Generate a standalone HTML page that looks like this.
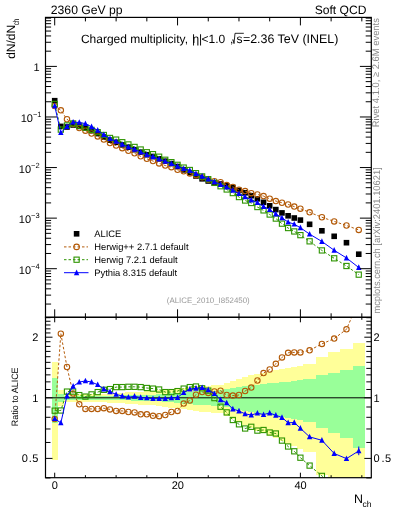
<!DOCTYPE html>
<html><head><meta charset="utf-8"><style>
html,body{margin:0;padding:0;background:#fff;}
body{width:393px;height:512px;overflow:hidden;}
svg{display:block;will-change:transform;}
</style></head><body>
<svg width="393" height="512" viewBox="0 0 393 512">
<defs><clipPath id="cm"><rect x="45.5" y="17.4" width="325.8" height="299.90000000000003"/></clipPath><clipPath id="cr"><rect x="45.5" y="317.3" width="325.8" height="160.39999999999998"/></clipPath></defs><g clip-path="url(#cr)"><g fill="#ffff99" shape-rendering="crispEdges"><rect x="51.63" y="361.89" width="6.14" height="97.92"/><rect x="57.77" y="390.27" width="6.14" height="15.78"/><rect x="63.91" y="393.53" width="6.14" height="8.75"/><rect x="70.06" y="393.53" width="6.14" height="8.75"/><rect x="76.2" y="393.53" width="6.14" height="8.75"/><rect x="82.34" y="393.53" width="6.14" height="8.75"/><rect x="88.48" y="393.53" width="6.14" height="8.75"/><rect x="94.63" y="393.53" width="6.14" height="8.75"/><rect x="100.77" y="393.53" width="6.14" height="8.75"/><rect x="106.91" y="393.22" width="6.14" height="9.41"/><rect x="113.05" y="392.91" width="6.14" height="10.06"/><rect x="119.2" y="392.6" width="6.14" height="10.72"/><rect x="125.34" y="392.29" width="6.14" height="11.38"/><rect x="131.48" y="391.92" width="6.14" height="12.19"/><rect x="137.62" y="391.54" width="6.14" height="13"/><rect x="143.77" y="391.17" width="6.14" height="13.81"/><rect x="149.91" y="390.8" width="6.14" height="14.62"/><rect x="156.05" y="390.43" width="6.14" height="15.43"/><rect x="162.19" y="389.75" width="6.14" height="16.93"/><rect x="168.34" y="389.07" width="6.14" height="18.43"/><rect x="174.48" y="388.4" width="6.14" height="19.93"/><rect x="180.62" y="387.73" width="6.14" height="21.44"/><rect x="186.76" y="387.07" width="6.14" height="22.96"/><rect x="192.91" y="386.42" width="6.14" height="24.47"/><rect x="199.05" y="385.86" width="6.14" height="25.78"/><rect x="205.19" y="385.51" width="6.14" height="26.59"/><rect x="211.33" y="385.17" width="6.14" height="27.4"/><rect x="217.48" y="384.82" width="6.14" height="28.22"/><rect x="223.62" y="382.81" width="6.14" height="33.1"/><rect x="229.76" y="380.83" width="6.14" height="38.04"/><rect x="235.9" y="378.91" width="6.14" height="43.03"/><rect x="242.05" y="377.02" width="6.14" height="48.09"/><rect x="248.19" y="375.28" width="6.14" height="52.93"/><rect x="254.33" y="374.01" width="6.14" height="56.57"/><rect x="260.47" y="372.76" width="6.14" height="60.25"/><rect x="266.62" y="371.53" width="6.14" height="63.99"/><rect x="272.76" y="370.32" width="6.14" height="67.79"/><rect x="278.9" y="369.12" width="6.14" height="71.65"/><rect x="285.04" y="367.94" width="6.14" height="75.58"/><rect x="291.19" y="366.77" width="6.14" height="79.58"/><rect x="297.33" y="365.62" width="6.14" height="83.66"/><rect x="303.47" y="364.42" width="12.28" height="88.07"/><rect x="315.76" y="357.42" width="12.29" height="117.69"/><rect x="328.04" y="352.24" width="12.29" height="146.28"/><rect x="340.33" y="349.48" width="12.28" height="165.42"/><rect x="352.61" y="343.08" width="12.29" height="233.08"/></g><g fill="#99ff99" shape-rendering="crispEdges"><rect x="51.63" y="378.29" width="6.14" height="44.66"/><rect x="57.77" y="393.53" width="6.14" height="8.75"/><rect x="63.91" y="395.9" width="6.14" height="3.85"/><rect x="70.06" y="395.9" width="6.14" height="3.85"/><rect x="76.2" y="395.9" width="6.14" height="3.85"/><rect x="82.34" y="395.9" width="6.14" height="3.85"/><rect x="88.48" y="395.9" width="6.14" height="3.85"/><rect x="94.63" y="395.9" width="6.14" height="3.85"/><rect x="100.77" y="395.9" width="6.14" height="3.85"/><rect x="106.91" y="395.73" width="6.14" height="4.2"/><rect x="113.05" y="395.56" width="6.14" height="4.55"/><rect x="119.2" y="395.39" width="6.14" height="4.9"/><rect x="125.34" y="395.22" width="6.14" height="5.25"/><rect x="131.48" y="395.06" width="6.14" height="5.56"/><rect x="137.62" y="394.91" width="6.14" height="5.88"/><rect x="143.77" y="394.76" width="6.14" height="6.19"/><rect x="149.91" y="394.61" width="6.14" height="6.51"/><rect x="156.05" y="394.46" width="6.14" height="6.82"/><rect x="162.19" y="393.94" width="6.14" height="7.89"/><rect x="168.34" y="393.43" width="6.14" height="8.97"/><rect x="174.48" y="392.92" width="6.14" height="10.04"/><rect x="180.62" y="392.42" width="6.14" height="11.11"/><rect x="186.76" y="391.92" width="6.14" height="12.19"/><rect x="192.91" y="391.42" width="6.14" height="13.26"/><rect x="199.05" y="391" width="6.14" height="14.18"/><rect x="205.19" y="390.75" width="6.14" height="14.71"/><rect x="211.33" y="390.51" width="6.14" height="15.24"/><rect x="217.48" y="390.27" width="6.14" height="15.78"/><rect x="223.62" y="389.25" width="6.14" height="18.02"/><rect x="229.76" y="388.25" width="6.14" height="20.27"/><rect x="235.9" y="387.26" width="6.14" height="22.53"/><rect x="242.05" y="386.28" width="6.14" height="24.79"/><rect x="248.19" y="385.38" width="6.14" height="26.91"/><rect x="254.33" y="384.74" width="6.14" height="28.41"/><rect x="260.47" y="384.11" width="6.14" height="29.93"/><rect x="266.62" y="383.48" width="6.14" height="31.44"/><rect x="272.76" y="382.86" width="6.14" height="32.97"/><rect x="278.9" y="382.24" width="6.14" height="34.49"/><rect x="285.04" y="381.63" width="6.14" height="36.03"/><rect x="291.19" y="381.02" width="6.14" height="37.56"/><rect x="297.33" y="380.42" width="6.14" height="39.11"/><rect x="303.47" y="379.14" width="12.28" height="42.43"/><rect x="315.76" y="375.4" width="12.29" height="52.59"/><rect x="328.04" y="372.54" width="12.29" height="60.93"/><rect x="340.33" y="370.28" width="12.28" height="67.91"/><rect x="352.61" y="365.92" width="12.29" height="82.57"/></g><line x1="45.5" y1="397.8" x2="371.3" y2="397.8" stroke="#000" stroke-width="1"/></g><g clip-path="url(#cm)"><g fill="#000"><rect x="51.9" y="97.9" width="5.6" height="5.6"/><rect x="58.04" y="123.6" width="5.6" height="5.6"/><rect x="64.19" y="124.2" width="5.6" height="5.6"/><rect x="70.33" y="122.2" width="5.6" height="5.6"/><rect x="76.47" y="123.6" width="5.6" height="5.6"/><rect x="82.61" y="125.1" width="5.6" height="5.6"/><rect x="88.76" y="127.9" width="5.6" height="5.6"/><rect x="94.9" y="130.8" width="5.6" height="5.6"/><rect x="101.04" y="134.2" width="5.6" height="5.6"/><rect x="107.18" y="137.35" width="5.6" height="5.6"/><rect x="113.33" y="139.5" width="5.6" height="5.6"/><rect x="119.47" y="142.1" width="5.6" height="5.6"/><rect x="125.61" y="144.4" width="5.6" height="5.6"/><rect x="131.75" y="146.9" width="5.6" height="5.6"/><rect x="137.89" y="149.4" width="5.6" height="5.6"/><rect x="144.04" y="151.9" width="5.6" height="5.6"/><rect x="150.18" y="153.7" width="5.6" height="5.6"/><rect x="156.32" y="156" width="5.6" height="5.6"/><rect x="162.46" y="158.4" width="5.6" height="5.6"/><rect x="168.61" y="160.8" width="5.6" height="5.6"/><rect x="174.75" y="163.7" width="5.6" height="5.6"/><rect x="180.89" y="167.1" width="5.6" height="5.6"/><rect x="187.03" y="169.9" width="5.6" height="5.6"/><rect x="193.18" y="173.2" width="5.6" height="5.6"/><rect x="199.32" y="176" width="5.6" height="5.6"/><rect x="205.46" y="178.2" width="5.6" height="5.6"/><rect x="211.61" y="180" width="5.6" height="5.6"/><rect x="217.75" y="181.2" width="5.6" height="5.6"/><rect x="223.89" y="183" width="5.6" height="5.6"/><rect x="230.03" y="184.7" width="5.6" height="5.6"/><rect x="236.18" y="187.6" width="5.6" height="5.6"/><rect x="242.32" y="190" width="5.6" height="5.6"/><rect x="248.46" y="192.9" width="5.6" height="5.6"/><rect x="254.6" y="196" width="5.6" height="5.6"/><rect x="260.75" y="199.5" width="5.6" height="5.6"/><rect x="266.89" y="203" width="5.6" height="5.6"/><rect x="273.03" y="206.8" width="5.6" height="5.6"/><rect x="279.17" y="210.1" width="5.6" height="5.6"/><rect x="285.31" y="213" width="5.6" height="5.6"/><rect x="291.46" y="215.2" width="5.6" height="5.6"/><rect x="297.6" y="217.3" width="5.6" height="5.6"/><rect x="306.81" y="221.5" width="5.6" height="5.6"/><rect x="319.1" y="228" width="5.6" height="5.6"/><rect x="331.38" y="233.5" width="5.6" height="5.6"/><rect x="343.67" y="239.9" width="5.6" height="5.6"/><rect x="355.95" y="251.4" width="5.6" height="5.6"/></g><polyline points="54.7,106.05 60.84,110.3 66.98,119.26 73.13,123.94 79.27,128.03 85.41,130.69 91.56,133.49 97.7,136.39 103.84,139.61 109.98,143.06 116.12,145.59 122.27,148.19 128.41,150.77 134.55,153.37 140.69,156.35 146.84,158.85 152.98,161.02 159.12,163.42 165.26,165.52 171.41,167.17 177.55,169.79 183.69,171.36 189.83,173.38 195.98,175.22 202.12,177.37 208.26,179.77 214.41,181.22 220.55,182.22 226.69,185.1 232.83,186.95 238.98,189.7 245.12,191.09 251.26,193.14 257.4,194.45 263.55,196.09 269.69,198.69 275.83,201.06 281.97,202.75 288.12,204.49 294.26,206.59 300.4,208.69 309.61,212.37 321.9,217.26 334.18,221.43 346.47,225.49 358.75,229.9" fill="none" stroke="#b35a08" stroke-width="1.0" stroke-dasharray="2.5,2"/><g fill="none" stroke="#b35a08" stroke-width="1.1"><circle cx="54.7" cy="106.05" r="2.7"/><circle cx="60.84" cy="110.3" r="2.7"/><circle cx="66.98" cy="119.26" r="2.7"/><circle cx="73.13" cy="123.94" r="2.7"/><circle cx="79.27" cy="128.03" r="2.7"/><circle cx="85.41" cy="130.69" r="2.7"/><circle cx="91.56" cy="133.49" r="2.7"/><circle cx="97.7" cy="136.39" r="2.7"/><circle cx="103.84" cy="139.61" r="2.7"/><circle cx="109.98" cy="143.06" r="2.7"/><circle cx="116.12" cy="145.59" r="2.7"/><circle cx="122.27" cy="148.19" r="2.7"/><circle cx="128.41" cy="150.77" r="2.7"/><circle cx="134.55" cy="153.37" r="2.7"/><circle cx="140.69" cy="156.35" r="2.7"/><circle cx="146.84" cy="158.85" r="2.7"/><circle cx="152.98" cy="161.02" r="2.7"/><circle cx="159.12" cy="163.42" r="2.7"/><circle cx="165.26" cy="165.52" r="2.7"/><circle cx="171.41" cy="167.17" r="2.7"/><circle cx="177.55" cy="169.79" r="2.7"/><circle cx="183.69" cy="171.36" r="2.7"/><circle cx="189.83" cy="173.38" r="2.7"/><circle cx="195.98" cy="175.22" r="2.7"/><circle cx="202.12" cy="177.37" r="2.7"/><circle cx="208.26" cy="179.77" r="2.7"/><circle cx="214.41" cy="181.22" r="2.7"/><circle cx="220.55" cy="182.22" r="2.7"/><circle cx="226.69" cy="185.1" r="2.7"/><circle cx="232.83" cy="186.95" r="2.7"/><circle cx="238.98" cy="189.7" r="2.7"/><circle cx="245.12" cy="191.09" r="2.7"/><circle cx="251.26" cy="193.14" r="2.7"/><circle cx="257.4" cy="194.45" r="2.7"/><circle cx="263.55" cy="196.09" r="2.7"/><circle cx="269.69" cy="198.69" r="2.7"/><circle cx="275.83" cy="201.06" r="2.7"/><circle cx="281.97" cy="202.75" r="2.7"/><circle cx="288.12" cy="204.49" r="2.7"/><circle cx="294.26" cy="206.59" r="2.7"/><circle cx="300.4" cy="208.69" r="2.7"/><circle cx="309.61" cy="212.37" r="2.7"/><circle cx="321.9" cy="217.26" r="2.7"/><circle cx="334.18" cy="221.43" r="2.7"/><circle cx="346.47" cy="225.49" r="2.7"/><circle cx="358.75" cy="229.9" r="2.7"/></g><polyline points="54.7,103.94 60.84,129.59 66.98,125.44 73.13,123.44 79.27,125.72 85.41,127.6 91.56,129.85 97.7,132.17 103.84,134.99 109.98,137.96 116.12,139.61 122.27,142.21 128.41,144.44 134.55,146.94 140.69,149.51 146.84,152.24 152.98,154.19 159.12,156.71 165.26,159.77 171.41,162.17 177.55,164.82 183.69,167.59 189.83,170.01 195.98,173.16 202.12,176.41 208.26,179.19 214.41,182.88 220.55,186.24 226.69,189.47 232.83,193.08 238.98,197.06 245.12,200.51 251.26,202.99 257.4,207.04 263.55,210.39 269.69,214.52 275.83,218.57 281.97,223.65 288.12,228.04 294.26,231.44 300.4,235.15 309.61,241.33 321.9,250.42 334.18,258.31 346.47,266 358.75,274.65" fill="none" stroke="#2e9400" stroke-width="1.0" stroke-dasharray="2.5,2"/><g fill="none" stroke="#2e9400" stroke-width="1.1"><rect x="52.1" y="101.34" width="5.2" height="5.2"/><rect x="58.24" y="126.99" width="5.2" height="5.2"/><rect x="64.39" y="122.84" width="5.2" height="5.2"/><rect x="70.53" y="120.84" width="5.2" height="5.2"/><rect x="76.67" y="123.12" width="5.2" height="5.2"/><rect x="82.81" y="125" width="5.2" height="5.2"/><rect x="88.96" y="127.25" width="5.2" height="5.2"/><rect x="95.1" y="129.57" width="5.2" height="5.2"/><rect x="101.24" y="132.39" width="5.2" height="5.2"/><rect x="107.38" y="135.36" width="5.2" height="5.2"/><rect x="113.53" y="137.01" width="5.2" height="5.2"/><rect x="119.67" y="139.61" width="5.2" height="5.2"/><rect x="125.81" y="141.84" width="5.2" height="5.2"/><rect x="131.95" y="144.34" width="5.2" height="5.2"/><rect x="138.09" y="146.91" width="5.2" height="5.2"/><rect x="144.24" y="149.64" width="5.2" height="5.2"/><rect x="150.38" y="151.59" width="5.2" height="5.2"/><rect x="156.52" y="154.11" width="5.2" height="5.2"/><rect x="162.66" y="157.17" width="5.2" height="5.2"/><rect x="168.81" y="159.57" width="5.2" height="5.2"/><rect x="174.95" y="162.22" width="5.2" height="5.2"/><rect x="181.09" y="164.99" width="5.2" height="5.2"/><rect x="187.23" y="167.41" width="5.2" height="5.2"/><rect x="193.38" y="170.56" width="5.2" height="5.2"/><rect x="199.52" y="173.81" width="5.2" height="5.2"/><rect x="205.66" y="176.59" width="5.2" height="5.2"/><rect x="211.81" y="180.28" width="5.2" height="5.2"/><rect x="217.95" y="183.64" width="5.2" height="5.2"/><rect x="224.09" y="186.87" width="5.2" height="5.2"/><rect x="230.23" y="190.48" width="5.2" height="5.2"/><rect x="236.38" y="194.46" width="5.2" height="5.2"/><rect x="242.52" y="197.91" width="5.2" height="5.2"/><rect x="248.66" y="200.39" width="5.2" height="5.2"/><rect x="254.8" y="204.44" width="5.2" height="5.2"/><rect x="260.94" y="207.79" width="5.2" height="5.2"/><rect x="267.09" y="211.92" width="5.2" height="5.2"/><rect x="273.23" y="215.97" width="5.2" height="5.2"/><rect x="279.37" y="221.05" width="5.2" height="5.2"/><rect x="285.51" y="225.44" width="5.2" height="5.2"/><rect x="291.66" y="228.84" width="5.2" height="5.2"/><rect x="297.8" y="232.55" width="5.2" height="5.2"/><rect x="307.01" y="238.73" width="5.2" height="5.2"/><rect x="319.3" y="247.82" width="5.2" height="5.2"/><rect x="331.58" y="255.71" width="5.2" height="5.2"/><rect x="343.87" y="263.4" width="5.2" height="5.2"/><rect x="356.15" y="272.05" width="5.2" height="5.2"/></g><polyline points="54.7,105.93 60.84,132.71 66.98,126.55 73.13,122.11 79.27,122.46 85.41,123.65 91.56,126.76 97.7,130.31 103.84,134.79 109.98,138.64 116.12,141.45 122.27,144.45 128.41,147.05 134.55,149.32 140.69,152.12 146.84,154.73 152.98,156.73 159.12,159.03 165.26,161.43 171.41,163.63 177.55,166.42 183.69,168.59 189.83,170.51 195.98,173.61 202.12,176.24 208.26,178.99 214.41,181.77 220.55,184.5 226.69,187.08 232.83,190.31 238.98,193.72 245.12,196.84 251.26,200.02 257.4,202.67 263.55,206.52 269.69,209.62 275.83,214 281.97,217.85 288.12,222.08 294.26,224.21 300.4,227.76 309.61,234.12 321.9,241.48 334.18,250.29 346.47,257.98 358.75,267.54" fill="none" stroke="#0000ff" stroke-width="1.0"/><g fill="#0000ff"><path d="M54.7,102.73L57.4,108.33L52,108.33Z"/><path d="M60.84,129.51L63.54,135.11L58.14,135.11Z"/><path d="M66.98,123.35L69.69,128.95L64.28,128.95Z"/><path d="M73.13,118.91L75.83,124.51L70.43,124.51Z"/><path d="M79.27,119.26L81.97,124.86L76.57,124.86Z"/><path d="M85.41,120.45L88.11,126.05L82.71,126.05Z"/><path d="M91.56,123.56L94.26,129.16L88.86,129.16Z"/><path d="M97.7,127.11L100.4,132.71L95,132.71Z"/><path d="M103.84,131.59L106.54,137.19L101.14,137.19Z"/><path d="M109.98,135.44L112.68,141.04L107.28,141.04Z"/><path d="M116.12,138.25L118.83,143.85L113.42,143.85Z"/><path d="M122.27,141.25L124.97,146.85L119.57,146.85Z"/><path d="M128.41,143.85L131.11,149.45L125.71,149.45Z"/><path d="M134.55,146.12L137.25,151.72L131.85,151.72Z"/><path d="M140.69,148.92L143.39,154.52L138,154.52Z"/><path d="M146.84,151.53L149.54,157.13L144.14,157.13Z"/><path d="M152.98,153.53L155.68,159.13L150.28,159.13Z"/><path d="M159.12,155.83L161.82,161.43L156.42,161.43Z"/><path d="M165.26,158.23L167.96,163.83L162.56,163.83Z"/><path d="M171.41,160.43L174.11,166.03L168.71,166.03Z"/><path d="M177.55,163.22L180.25,168.82L174.85,168.82Z"/><path d="M183.69,165.39L186.39,170.99L180.99,170.99Z"/><path d="M189.83,167.31L192.53,172.91L187.13,172.91Z"/><path d="M195.98,170.41L198.68,176.01L193.28,176.01Z"/><path d="M202.12,173.04L204.82,178.64L199.42,178.64Z"/><path d="M208.26,175.79L210.96,181.39L205.56,181.39Z"/><path d="M214.41,178.57L217.11,184.17L211.71,184.17Z"/><path d="M220.55,181.3L223.25,186.9L217.85,186.9Z"/><path d="M226.69,183.88L229.39,189.48L223.99,189.48Z"/><path d="M232.83,187.11L235.53,192.71L230.13,192.71Z"/><path d="M238.98,190.52L241.68,196.12L236.28,196.12Z"/><path d="M245.12,193.64L247.82,199.24L242.42,199.24Z"/><path d="M251.26,196.82L253.96,202.42L248.56,202.42Z"/><path d="M257.4,199.47L260.1,205.07L254.7,205.07Z"/><path d="M263.55,203.32L266.25,208.92L260.85,208.92Z"/><path d="M269.69,206.42L272.39,212.02L266.99,212.02Z"/><path d="M275.83,210.8L278.53,216.4L273.13,216.4Z"/><path d="M281.97,214.65L284.67,220.25L279.27,220.25Z"/><path d="M288.12,218.88L290.81,224.48L285.42,224.48Z"/><path d="M294.26,221.01L296.96,226.61L291.56,226.61Z"/><path d="M300.4,224.56L303.1,230.16L297.7,230.16Z"/><path d="M309.61,230.92L312.31,236.52L306.91,236.52Z"/><path d="M321.9,238.28L324.6,243.88L319.2,243.88Z"/><path d="M334.18,247.09L336.88,252.69L331.48,252.69Z"/><path d="M346.47,254.78L349.17,260.38L343.77,260.38Z"/><path d="M358.75,264.34L361.45,269.94L356.05,269.94Z"/></g></g><g clip-path="url(#cr)"><polyline points="54.7,419.1 60.84,333.7 66.98,367 73.13,393.6 79.27,404.3 85.41,408.9 91.56,408.9 97.7,408.9 103.84,408.2 109.98,409.4 116.12,410.9 122.27,410.9 128.41,412 134.55,412.4 140.69,414.3 146.84,414.3 152.98,415.8 159.12,416.2 165.26,415 171.41,412 177.55,410.9 183.69,403.6 189.83,400.5 195.98,394.7 202.12,392.1 208.26,392.9 214.41,391.5 220.55,390.7 226.69,395 232.83,395.6 238.98,395 245.12,391 251.26,387.6 257.4,380.5 263.55,373.1 269.69,369.5 275.83,363.8 281.97,357.4 288.12,352.8 294.26,352.4 300.4,352.4 309.61,350.3 321.9,343.9 334.18,338.6 346.47,329.3 358.75,301.08" fill="none" stroke="#b35a08" stroke-width="1.0" stroke-dasharray="2.5,2"/><g fill="none" stroke="#b35a08" stroke-width="1.1"><circle cx="54.7" cy="419.1" r="2.7"/><circle cx="60.84" cy="333.7" r="2.7"/><circle cx="66.98" cy="367" r="2.7"/><circle cx="73.13" cy="393.6" r="2.7"/><circle cx="79.27" cy="404.3" r="2.7"/><circle cx="85.41" cy="408.9" r="2.7"/><circle cx="91.56" cy="408.9" r="2.7"/><circle cx="97.7" cy="408.9" r="2.7"/><circle cx="103.84" cy="408.2" r="2.7"/><circle cx="109.98" cy="409.4" r="2.7"/><circle cx="116.12" cy="410.9" r="2.7"/><circle cx="122.27" cy="410.9" r="2.7"/><circle cx="128.41" cy="412" r="2.7"/><circle cx="134.55" cy="412.4" r="2.7"/><circle cx="140.69" cy="414.3" r="2.7"/><circle cx="146.84" cy="414.3" r="2.7"/><circle cx="152.98" cy="415.8" r="2.7"/><circle cx="159.12" cy="416.2" r="2.7"/><circle cx="165.26" cy="415" r="2.7"/><circle cx="171.41" cy="412" r="2.7"/><circle cx="177.55" cy="410.9" r="2.7"/><circle cx="183.69" cy="403.6" r="2.7"/><circle cx="189.83" cy="400.5" r="2.7"/><circle cx="195.98" cy="394.7" r="2.7"/><circle cx="202.12" cy="392.1" r="2.7"/><circle cx="208.26" cy="392.9" r="2.7"/><circle cx="214.41" cy="391.5" r="2.7"/><circle cx="220.55" cy="390.7" r="2.7"/><circle cx="226.69" cy="395" r="2.7"/><circle cx="232.83" cy="395.6" r="2.7"/><circle cx="238.98" cy="395" r="2.7"/><circle cx="245.12" cy="391" r="2.7"/><circle cx="251.26" cy="387.6" r="2.7"/><circle cx="257.4" cy="380.5" r="2.7"/><circle cx="263.55" cy="373.1" r="2.7"/><circle cx="269.69" cy="369.5" r="2.7"/><circle cx="275.83" cy="363.8" r="2.7"/><circle cx="281.97" cy="357.4" r="2.7"/><circle cx="288.12" cy="352.8" r="2.7"/><circle cx="294.26" cy="352.4" r="2.7"/><circle cx="300.4" cy="352.4" r="2.7"/><circle cx="309.61" cy="350.3" r="2.7"/><circle cx="321.9" cy="343.9" r="2.7"/><circle cx="334.18" cy="338.6" r="2.7"/><circle cx="346.47" cy="329.3" r="2.7"/></g><polyline points="54.7,410.7 60.84,410.5 66.98,391.6 73.13,391.6 79.27,395.1 85.41,396.6 91.56,394.4 97.7,392.1 103.84,389.8 109.98,389.1 116.12,387.1 122.27,387.1 128.41,386.8 134.55,386.8 140.69,387.1 146.84,388 152.98,388.6 159.12,389.5 165.26,392.1 171.41,392.1 177.55,391.1 183.69,388.6 189.83,387.1 195.98,386.5 202.12,388.3 208.26,390.6 214.41,398.1 220.55,406.7 226.69,412.4 232.83,420 238.98,424.3 245.12,428.5 251.26,426.8 257.4,430.6 263.55,430 269.69,432.5 275.83,433.5 281.97,440.6 288.12,446.5 294.26,451.3 300.4,457.7 309.61,465.6 321.9,475.9 334.18,485.4 346.47,490.54 358.75,479.2" fill="none" stroke="#2e9400" stroke-width="1.0" stroke-dasharray="2.5,2"/><g fill="none" stroke="#2e9400" stroke-width="1.1"><rect x="52.1" y="408.1" width="5.2" height="5.2"/><rect x="58.24" y="407.9" width="5.2" height="5.2"/><rect x="64.39" y="389" width="5.2" height="5.2"/><rect x="70.53" y="389" width="5.2" height="5.2"/><rect x="76.67" y="392.5" width="5.2" height="5.2"/><rect x="82.81" y="394" width="5.2" height="5.2"/><rect x="88.96" y="391.8" width="5.2" height="5.2"/><rect x="95.1" y="389.5" width="5.2" height="5.2"/><rect x="101.24" y="387.2" width="5.2" height="5.2"/><rect x="107.38" y="386.5" width="5.2" height="5.2"/><rect x="113.53" y="384.5" width="5.2" height="5.2"/><rect x="119.67" y="384.5" width="5.2" height="5.2"/><rect x="125.81" y="384.2" width="5.2" height="5.2"/><rect x="131.95" y="384.2" width="5.2" height="5.2"/><rect x="138.09" y="384.5" width="5.2" height="5.2"/><rect x="144.24" y="385.4" width="5.2" height="5.2"/><rect x="150.38" y="386" width="5.2" height="5.2"/><rect x="156.52" y="386.9" width="5.2" height="5.2"/><rect x="162.66" y="389.5" width="5.2" height="5.2"/><rect x="168.81" y="389.5" width="5.2" height="5.2"/><rect x="174.95" y="388.5" width="5.2" height="5.2"/><rect x="181.09" y="386" width="5.2" height="5.2"/><rect x="187.23" y="384.5" width="5.2" height="5.2"/><rect x="193.38" y="383.9" width="5.2" height="5.2"/><rect x="199.52" y="385.7" width="5.2" height="5.2"/><rect x="205.66" y="388" width="5.2" height="5.2"/><rect x="211.81" y="395.5" width="5.2" height="5.2"/><rect x="217.95" y="404.1" width="5.2" height="5.2"/><rect x="224.09" y="409.8" width="5.2" height="5.2"/><rect x="230.23" y="417.4" width="5.2" height="5.2"/><rect x="236.38" y="421.7" width="5.2" height="5.2"/><rect x="242.52" y="425.9" width="5.2" height="5.2"/><rect x="248.66" y="424.2" width="5.2" height="5.2"/><rect x="254.8" y="428" width="5.2" height="5.2"/><rect x="260.94" y="427.4" width="5.2" height="5.2"/><rect x="267.09" y="429.9" width="5.2" height="5.2"/><rect x="273.23" y="430.9" width="5.2" height="5.2"/><rect x="279.37" y="438" width="5.2" height="5.2"/><rect x="285.51" y="443.9" width="5.2" height="5.2"/><rect x="291.66" y="448.7" width="5.2" height="5.2"/><rect x="297.8" y="455.1" width="5.2" height="5.2"/><rect x="307.01" y="463" width="5.2" height="5.2"/><rect x="319.3" y="473.3" width="5.2" height="5.2"/><rect x="331.58" y="482.8" width="5.2" height="5.2"/></g><polyline points="54.7,418.6 60.84,422.9 66.98,396 73.13,386.3 79.27,382.1 85.41,380.9 91.56,382.1 97.7,384.7 103.84,389 109.98,391.8 116.12,394.4 122.27,396 128.41,397.2 134.55,396.3 140.69,397.5 146.84,397.9 152.98,398.7 159.12,398.7 165.26,398.7 171.41,397.9 177.55,397.5 183.69,392.6 189.83,389.1 195.98,388.3 202.12,387.6 208.26,389.8 214.41,393.7 220.55,399.8 226.69,402.9 232.83,409 238.98,411 245.12,413.9 251.26,415 257.4,413.2 263.55,414.6 269.69,413 275.83,415.3 281.97,417.5 288.12,422.8 294.26,422.5 300.4,428.3 309.61,436.9 321.9,440.3 334.18,453.5 346.47,458.6 358.75,450.9" fill="none" stroke="#0000ff" stroke-width="1.0"/><g fill="#0000ff"><path d="M54.7,415.4L57.4,421L52,421Z"/><path d="M60.84,419.7L63.54,425.3L58.14,425.3Z"/><path d="M66.98,392.8L69.69,398.4L64.28,398.4Z"/><path d="M73.13,383.1L75.83,388.7L70.43,388.7Z"/><path d="M79.27,378.9L81.97,384.5L76.57,384.5Z"/><path d="M85.41,377.7L88.11,383.3L82.71,383.3Z"/><path d="M91.56,378.9L94.26,384.5L88.86,384.5Z"/><path d="M97.7,381.5L100.4,387.1L95,387.1Z"/><path d="M103.84,385.8L106.54,391.4L101.14,391.4Z"/><path d="M109.98,388.6L112.68,394.2L107.28,394.2Z"/><path d="M116.12,391.2L118.83,396.8L113.42,396.8Z"/><path d="M122.27,392.8L124.97,398.4L119.57,398.4Z"/><path d="M128.41,394L131.11,399.6L125.71,399.6Z"/><path d="M134.55,393.1L137.25,398.7L131.85,398.7Z"/><path d="M140.69,394.3L143.39,399.9L138,399.9Z"/><path d="M146.84,394.7L149.54,400.3L144.14,400.3Z"/><path d="M152.98,395.5L155.68,401.1L150.28,401.1Z"/><path d="M159.12,395.5L161.82,401.1L156.42,401.1Z"/><path d="M165.26,395.5L167.96,401.1L162.56,401.1Z"/><path d="M171.41,394.7L174.11,400.3L168.71,400.3Z"/><path d="M177.55,394.3L180.25,399.9L174.85,399.9Z"/><path d="M183.69,389.4L186.39,395L180.99,395Z"/><path d="M189.83,385.9L192.53,391.5L187.13,391.5Z"/><path d="M195.98,385.1L198.68,390.7L193.28,390.7Z"/><path d="M202.12,384.4L204.82,390L199.42,390Z"/><path d="M208.26,386.6L210.96,392.2L205.56,392.2Z"/><path d="M214.41,390.5L217.11,396.1L211.71,396.1Z"/><path d="M220.55,396.6L223.25,402.2L217.85,402.2Z"/><path d="M226.69,399.7L229.39,405.3L223.99,405.3Z"/><path d="M232.83,405.8L235.53,411.4L230.13,411.4Z"/><path d="M238.98,407.8L241.68,413.4L236.28,413.4Z"/><path d="M245.12,410.7L247.82,416.3L242.42,416.3Z"/><path d="M251.26,411.8L253.96,417.4L248.56,417.4Z"/><path d="M257.4,410L260.1,415.6L254.7,415.6Z"/><path d="M263.55,411.4L266.25,417L260.85,417Z"/><path d="M269.69,409.8L272.39,415.4L266.99,415.4Z"/><path d="M275.83,412.1L278.53,417.7L273.13,417.7Z"/><path d="M281.97,414.3L284.67,419.9L279.27,419.9Z"/><path d="M288.12,419.6L290.81,425.2L285.42,425.2Z"/><path d="M294.26,419.3L296.96,424.9L291.56,424.9Z"/><path d="M300.4,425.1L303.1,430.7L297.7,430.7Z"/><path d="M309.61,433.7L312.31,439.3L306.91,439.3Z"/><path d="M321.9,437.1L324.6,442.7L319.2,442.7Z"/><path d="M334.18,450.3L336.88,455.9L331.48,455.9Z"/><path d="M346.47,455.4L349.17,461L343.77,461Z"/><path d="M358.75,447.7L361.45,453.3L356.05,453.3Z"/></g><line x1="358.75" y1="446.5" x2="358.75" y2="455.2" stroke="#0000ff" stroke-width="1"/></g><path d="M54.7,17.4L54.7,25.4M54.7,317.3L54.7,309.3M54.7,317.3L54.7,322.3M54.7,477.7L54.7,472.7M85.41,17.4L85.41,21.4M85.41,317.3L85.41,313.3M85.41,317.3L85.41,319.8M85.41,477.7L85.41,475.2M116.12,17.4L116.12,21.4M116.12,317.3L116.12,313.3M116.12,317.3L116.12,319.8M116.12,477.7L116.12,475.2M146.84,17.4L146.84,21.4M146.84,317.3L146.84,313.3M146.84,317.3L146.84,319.8M146.84,477.7L146.84,475.2M177.55,17.4L177.55,25.4M177.55,317.3L177.55,309.3M177.55,317.3L177.55,322.3M177.55,477.7L177.55,472.7M208.26,17.4L208.26,21.4M208.26,317.3L208.26,313.3M208.26,317.3L208.26,319.8M208.26,477.7L208.26,475.2M238.98,17.4L238.98,21.4M238.98,317.3L238.98,313.3M238.98,317.3L238.98,319.8M238.98,477.7L238.98,475.2M269.69,17.4L269.69,21.4M269.69,317.3L269.69,313.3M269.69,317.3L269.69,319.8M269.69,477.7L269.69,475.2M300.4,17.4L300.4,25.4M300.4,317.3L300.4,309.3M300.4,317.3L300.4,322.3M300.4,477.7L300.4,472.7M331.11,17.4L331.11,21.4M331.11,317.3L331.11,313.3M331.11,317.3L331.11,319.8M331.11,477.7L331.11,475.2M361.82,17.4L361.82,21.4M361.82,317.3L361.82,313.3M361.82,317.3L361.82,319.8M361.82,477.7L361.82,475.2M45.5,304.05L51.1,304.05M371.3,304.05L365.7,304.05M45.5,295.14L51.1,295.14M371.3,295.14L365.7,295.14M45.5,288.83L51.1,288.83M371.3,288.83L365.7,288.83M45.5,283.92L51.1,283.92M371.3,283.92L365.7,283.92M45.5,279.92L51.1,279.92M371.3,279.92L365.7,279.92M45.5,276.53L51.1,276.53M371.3,276.53L365.7,276.53M45.5,273.6L51.1,273.6M371.3,273.6L365.7,273.6M45.5,271.01L51.1,271.01M371.3,271.01L365.7,271.01M45.5,268.7L56.9,268.7M371.3,268.7L359.9,268.7M45.5,253.48L51.1,253.48M371.3,253.48L365.7,253.48M45.5,244.57L51.1,244.57M371.3,244.57L365.7,244.57M45.5,238.25L51.1,238.25M371.3,238.25L365.7,238.25M45.5,233.35L51.1,233.35M371.3,233.35L365.7,233.35M45.5,229.35L51.1,229.35M371.3,229.35L365.7,229.35M45.5,225.96L51.1,225.96M371.3,225.96L365.7,225.96M45.5,223.03L51.1,223.03M371.3,223.03L365.7,223.03M45.5,220.44L51.1,220.44M371.3,220.44L365.7,220.44M45.5,218.13L56.9,218.13M371.3,218.13L359.9,218.13M45.5,202.9L51.1,202.9M371.3,202.9L365.7,202.9M45.5,193.99L51.1,193.99M371.3,193.99L365.7,193.99M45.5,187.68L51.1,187.68M371.3,187.68L365.7,187.68M45.5,182.77L51.1,182.77M371.3,182.77L365.7,182.77M45.5,178.77L51.1,178.77M371.3,178.77L365.7,178.77M45.5,175.38L51.1,175.38M371.3,175.38L365.7,175.38M45.5,172.45L51.1,172.45M371.3,172.45L365.7,172.45M45.5,169.86L51.1,169.86M371.3,169.86L365.7,169.86M45.5,167.55L56.9,167.55M371.3,167.55L359.9,167.55M45.5,152.33L51.1,152.33M371.3,152.33L365.7,152.33M45.5,143.42L51.1,143.42M371.3,143.42L365.7,143.42M45.5,137.1L51.1,137.1M371.3,137.1L365.7,137.1M45.5,132.2L51.1,132.2M371.3,132.2L365.7,132.2M45.5,128.2L51.1,128.2M371.3,128.2L365.7,128.2M45.5,124.81L51.1,124.81M371.3,124.81L365.7,124.81M45.5,121.88L51.1,121.88M371.3,121.88L365.7,121.88M45.5,119.29L51.1,119.29M371.3,119.29L365.7,119.29M45.5,116.98L56.9,116.98M371.3,116.98L359.9,116.98M45.5,101.75L51.1,101.75M371.3,101.75L365.7,101.75M45.5,92.84L51.1,92.84M371.3,92.84L365.7,92.84M45.5,86.53L51.1,86.53M371.3,86.53L365.7,86.53M45.5,81.62L51.1,81.62M371.3,81.62L365.7,81.62M45.5,77.62L51.1,77.62M371.3,77.62L365.7,77.62M45.5,74.23L51.1,74.23M371.3,74.23L365.7,74.23M45.5,71.3L51.1,71.3M371.3,71.3L365.7,71.3M45.5,68.71L51.1,68.71M371.3,68.71L365.7,68.71M45.5,66.4L56.9,66.4M371.3,66.4L359.9,66.4M45.5,51.18L51.1,51.18M371.3,51.18L365.7,51.18M45.5,42.27L51.1,42.27M371.3,42.27L365.7,42.27M45.5,35.95L51.1,35.95M371.3,35.95L365.7,35.95M45.5,31.05L51.1,31.05M371.3,31.05L365.7,31.05M45.5,27.05L51.1,27.05M371.3,27.05L365.7,27.05M45.5,23.66L51.1,23.66M371.3,23.66L365.7,23.66M45.5,20.73L51.1,20.73M371.3,20.73L365.7,20.73M45.5,18.14L51.1,18.14M371.3,18.14L365.7,18.14M45.5,477.91L50.5,477.91M371.3,477.91L366.3,477.91M45.5,458.4L52.5,458.4M371.3,458.4L364.3,458.4M45.5,442.46L50.5,442.46M371.3,442.46L366.3,442.46M45.5,428.98L50.5,428.98M371.3,428.98L366.3,428.98M45.5,417.31L50.5,417.31M371.3,417.31L366.3,417.31M45.5,407.01L50.5,407.01M371.3,407.01L366.3,407.01M45.5,397.8L52.5,397.8M371.3,397.8L364.3,397.8M45.5,389.47L50.5,389.47M371.3,389.47L366.3,389.47M45.5,381.86L50.5,381.86M371.3,381.86L366.3,381.86M45.5,374.86L50.5,374.86M371.3,374.86L366.3,374.86M45.5,368.38L50.5,368.38M371.3,368.38L366.3,368.38M45.5,362.35L50.5,362.35M371.3,362.35L366.3,362.35M45.5,356.71L50.5,356.71M371.3,356.71L366.3,356.71M45.5,351.41L50.5,351.41M371.3,351.41L366.3,351.41M45.5,346.41L50.5,346.41M371.3,346.41L366.3,346.41M45.5,341.69L50.5,341.69M371.3,341.69L366.3,341.69M45.5,337.2L52.5,337.2M371.3,337.2L364.3,337.2M45.5,332.94L50.5,332.94M371.3,332.94L366.3,332.94M45.5,328.87L50.5,328.87M371.3,328.87L366.3,328.87M45.5,324.98L50.5,324.98M371.3,324.98L366.3,324.98M45.5,321.26L50.5,321.26M371.3,321.26L366.3,321.26M45.5,317.69L50.5,317.69M371.3,317.69L366.3,317.69" stroke="#000" stroke-width="1" fill="none"/><rect x="45.5" y="17.4" width="325.8" height="299.90000000000003" fill="none" stroke="#000" stroke-width="1.2"/><rect x="45.5" y="317.3" width="325.8" height="160.39999999999998" fill="none" stroke="#000" stroke-width="1.2"/><g font-family="'Liberation Sans', sans-serif" text-rendering="geometricPrecision"><text x="50.8" y="13.8" font-size="12.2" text-anchor="start" fill="#000" >2360 GeV pp</text><text x="366.4" y="13.8" font-size="12.1" text-anchor="end" fill="#000" >Soft QCD</text><text x="80.9" y="42.9" font-size="12" text-anchor="start" fill="#000" >Charged multiplicity,</text><text x="192" y="42.9" font-size="12" text-anchor="start" fill="#000" >|</text><text x="192.6" y="42.9" font-size="12" text-anchor="start" fill="#000" >&#951;</text><text x="198.9" y="42.9" font-size="12" text-anchor="start" fill="#000" >|</text><text x="201.5" y="42.9" font-size="12" text-anchor="start" fill="#000" >&lt;1.0</text><text x="229.9" y="42.9" font-size="12" text-anchor="start" fill="#000" >,</text><path d="M232.3,40.2L233.1,39.6L234.0,43.6L235.0,33.3L243.8,33.3" fill="none" stroke="#000" stroke-width="0.85"/><text x="236.6" y="42.9" font-size="12" text-anchor="start" fill="#000" >s</text><text x="242.9" y="42.9" font-size="12.45" text-anchor="start" fill="#000" >=2.36 TeV (INEL)</text><text x="39.6" y="70.6" font-size="11" text-anchor="end" fill="#000" >1</text><text x="41.5" y="121.98" font-size="11" text-anchor="end">10<tspan dy="-5" font-size="7.5">&#8722;1</tspan></text><text x="39.6" y="172.55" font-size="11" text-anchor="end">10<tspan dy="-5" font-size="7.5">&#8722;2</tspan></text><text x="39.6" y="223.13" font-size="11" text-anchor="end">10<tspan dy="-5" font-size="7.5">&#8722;3</tspan></text><text x="39.6" y="273.7" font-size="11" text-anchor="end">10<tspan dy="-5" font-size="7.5">&#8722;4</tspan></text><text x="38.3" y="341.1" font-size="11" text-anchor="end" fill="#000" >2</text><text x="38.3" y="401.7" font-size="11" text-anchor="end" fill="#000" >1</text><text x="38.3" y="462.3" font-size="11" text-anchor="end" fill="#000" >0<tspan dx='1.0'>.</tspan><tspan dx='0.3'>5</tspan></text><text x="373.5" y="341.1" font-size="11" text-anchor="start" fill="#000" >2</text><text x="373.5" y="401.7" font-size="11" text-anchor="start" fill="#000" >1</text><text x="373.5" y="462.3" font-size="11" text-anchor="start" fill="#000" >0<tspan dx='1.9'>.</tspan><tspan dx='0.3'>5</tspan></text><text x="54.9" y="489" font-size="11" text-anchor="middle" fill="#000" >0</text><text x="177.75" y="489" font-size="11" text-anchor="middle" fill="#000" >20</text><text x="300.6" y="489" font-size="11" text-anchor="middle" fill="#000" >40</text><text x="354.1" y="502.6" font-size="12.4" text-anchor="start" fill="#000" >N</text><text x="362.6" y="507" font-size="8.5" text-anchor="start" fill="#000" >ch</text><rect x="73.8" y="231" width="5.6" height="5.6" fill="#000"/><text x="94.2" y="236.9" font-size="9.38" text-anchor="start" fill="#000" >ALICE</text><line x1="64" y1="246.9" x2="88" y2="246.9" stroke="#b35a08" stroke-dasharray="2.5,2" stroke-width="1"/><circle cx="76.6" cy="246.9" r="2.75" fill="none" stroke="#b35a08" stroke-width="1.1"/><text x="94.2" y="249.8" font-size="9.38" text-anchor="start" fill="#000" >Herwig++ 2.7.1 default</text><line x1="64" y1="259.7" x2="88" y2="259.7" stroke="#2e9400" stroke-dasharray="2.5,2" stroke-width="1"/><rect x="74" y="257.1" width="5.2" height="5.2" fill="none" stroke="#2e9400" stroke-width="1.1"/><text x="94.2" y="262.7" font-size="9.38" text-anchor="start" fill="#000" >Herwig 7.2.1 default</text><line x1="64" y1="272.7" x2="88.5" y2="272.7" stroke="#0000ff" stroke-width="1"/><path d="M76.6,269.6L79.3,275.3L73.9,275.3Z" fill="#0000ff"/><text x="94.2" y="275.6" font-size="9.38" text-anchor="start" fill="#000" >Pythia 8.315 default</text><text x="166.8" y="302.7" font-size="7.9" text-anchor="start" fill="#999" >(ALICE_2010_I852450)</text><text transform="translate(15.3,58.8) rotate(-90)" font-size="12">dN/dN<tspan dy="3.9" dx="-0.3" font-size="8.5" textLength="6.2" lengthAdjust="spacingAndGlyphs">ch</tspan></text><text transform="translate(18.2,426.2) rotate(-90)" font-size="9.25" textLength="58.8" lengthAdjust="spacingAndGlyphs">Ratio to ALICE</text><text transform="translate(379.4,127.2) rotate(-90)" font-size="9.7" textLength="109.1" lengthAdjust="spacingAndGlyphs" fill="#888">Rivet 4.1.0, &#8805; 2.6M events</text><text transform="translate(380.2,313.6) rotate(-90)" font-size="9.7" textLength="146.3" lengthAdjust="spacingAndGlyphs" fill="#888">mcplots.cern.ch [arXiv:2401.10621]</text></g>
</svg>
</body></html>
